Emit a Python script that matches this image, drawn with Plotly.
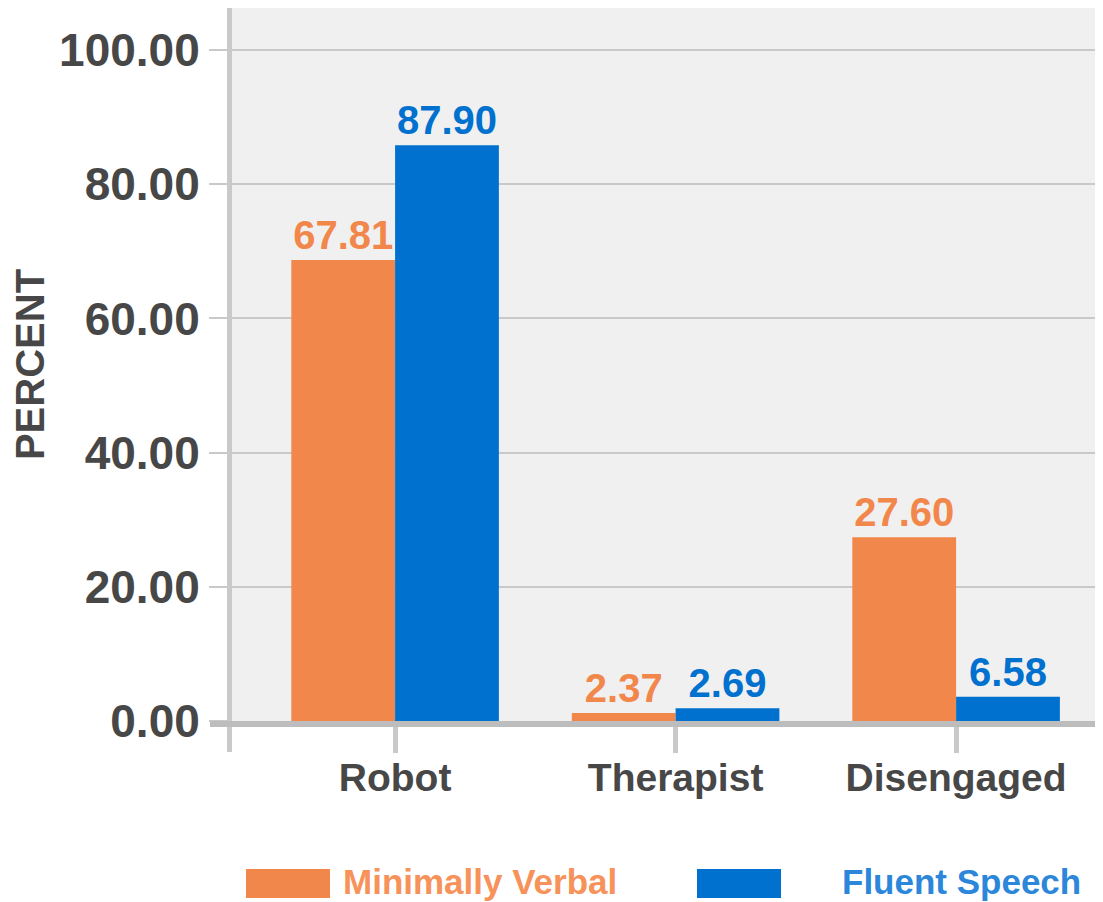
import plotly.graph_objects as go

categories = ["Robot", "Therapist", "Disengaged"]
series_names = ["Minimally Verbal", "Fluent Speech"]
# bar heights as drawn in the picture
mv_values = [68.7, 1.2, 27.4]
fs_values = [85.8, 1.9, 3.6]
# value labels printed above the bars
mv_labels = ["67.81", "2.37", "27.60"]
fs_labels = ["87.90", "2.69", "6.58"]
y_ticks = [0, 20, 40, 60, 80, 100]

ORANGE = "#F2874B"
BLUE = "#0071CE"
ORANGE_TXT = "#F6925A"
BLUE_TXT = "#2C87DA"
DARK = "#474747"
GRID = "#C9C9C9"
FONT = "Liberation Sans, Arial, sans-serif"

# page shows the figure offset by the body margin
OFF = 8
W, H = 1103 - OFF, 902 - OFF
PLOT_L, PLOT_R, PLOT_T, PLOT_B = 231, 1100, 8, 721   # in page pixels
ML = PLOT_L - OFF
MT = PLOT_T - OFF
MR = W - (PLOT_R - OFF)
MB = H - (PLOT_B - OFF)
PW, PH = W - ML - MR, H - MT - MB


def px(x):
    return (x - OFF - ML) / PW


def py(y):
    return (H - MB - (y - OFF)) / PH


fig = go.Figure()
fig.add_bar(x=categories, y=mv_values, name=series_names[0], marker_color=ORANGE,
            marker_line_width=0, text=mv_labels, textposition="outside",
            textfont=dict(family=FONT, size=40, color=ORANGE, weight="bold"), cliponaxis=False,
            constraintext="none", showlegend=False)
fig.add_bar(x=categories, y=fs_values, name=series_names[1], marker_color=BLUE,
            marker_line_width=0, text=fs_labels, textposition="outside",
            textfont=dict(family=FONT, size=40, color=BLUE, weight="bold"), cliponaxis=False,
            constraintext="none", showlegend=False)

fig.update_layout(
    width=W, height=H,
    margin=dict(l=ML, r=MR, t=MT, b=MB, pad=0),
    paper_bgcolor="white", plot_bgcolor="#F0F0F0",
    barmode="group", bargap=0.26, bargroupgap=0,
    font=dict(family=FONT, color=DARK),
)
fig.update_xaxes(
    type="category", range=[-0.585, 2.513], showgrid=False, showline=False, zeroline=False,
    ticks="outside", ticklen=31, tickwidth=5, tickcolor=GRID, ticklabelstandoff=-9,
    tickfont=dict(family=FONT, size=39, color=DARK, weight="bold"),
)
fig.update_yaxes(
    range=[0, 106.26], tickvals=y_ticks, tickformat=".2f",
    showgrid=True, gridcolor=GRID, gridwidth=1.6, zeroline=False, showline=False,
    ticks="outside", ticklen=21, tickwidth=1.6, tickcolor=GRID,
    tickfont=dict(family=FONT, size=46, color=DARK, weight="bold"),
    title=dict(text="PERCENT", standoff=2,
               font=dict(family=FONT, size=40, color=DARK, weight="bold")),
)

# axis frame lines
fig.add_shape(type="line", xref="paper", yref="paper",
              x0=px(229.5), x1=px(229.5), y0=py(8), y1=py(752),
              line=dict(color=GRID, width=5), layer="above")
fig.add_shape(type="line", xref="paper", yref="paper",
              x0=px(210), x1=1, y0=py(724), y1=py(724),
              line=dict(color="#BDBDBD", width=6), layer="above")

# custom legend
fig.add_shape(type="rect", xref="paper", yref="paper",
              x0=px(246), x1=px(330), y0=py(898), y1=py(869),
              fillcolor=ORANGE, line_width=0)
fig.add_shape(type="rect", xref="paper", yref="paper",
              x0=px(697), x1=px(781), y0=py(898), y1=py(869),
              fillcolor=BLUE, line_width=0)
fig.add_annotation(xref="paper", yref="paper", x=px(341), y=py(881), xanchor="left",
                   yanchor="middle", text=series_names[0], showarrow=False,
                   font=dict(family=FONT, size=35, color=ORANGE_TXT, weight="bold"))
fig.add_annotation(xref="paper", yref="paper", x=px(840), y=py(881), xanchor="left",
                   yanchor="middle", text=series_names[1], showarrow=False,
                   font=dict(family=FONT, size=35, color=BLUE_TXT, weight="bold"))

fig.write_html("out.html")
